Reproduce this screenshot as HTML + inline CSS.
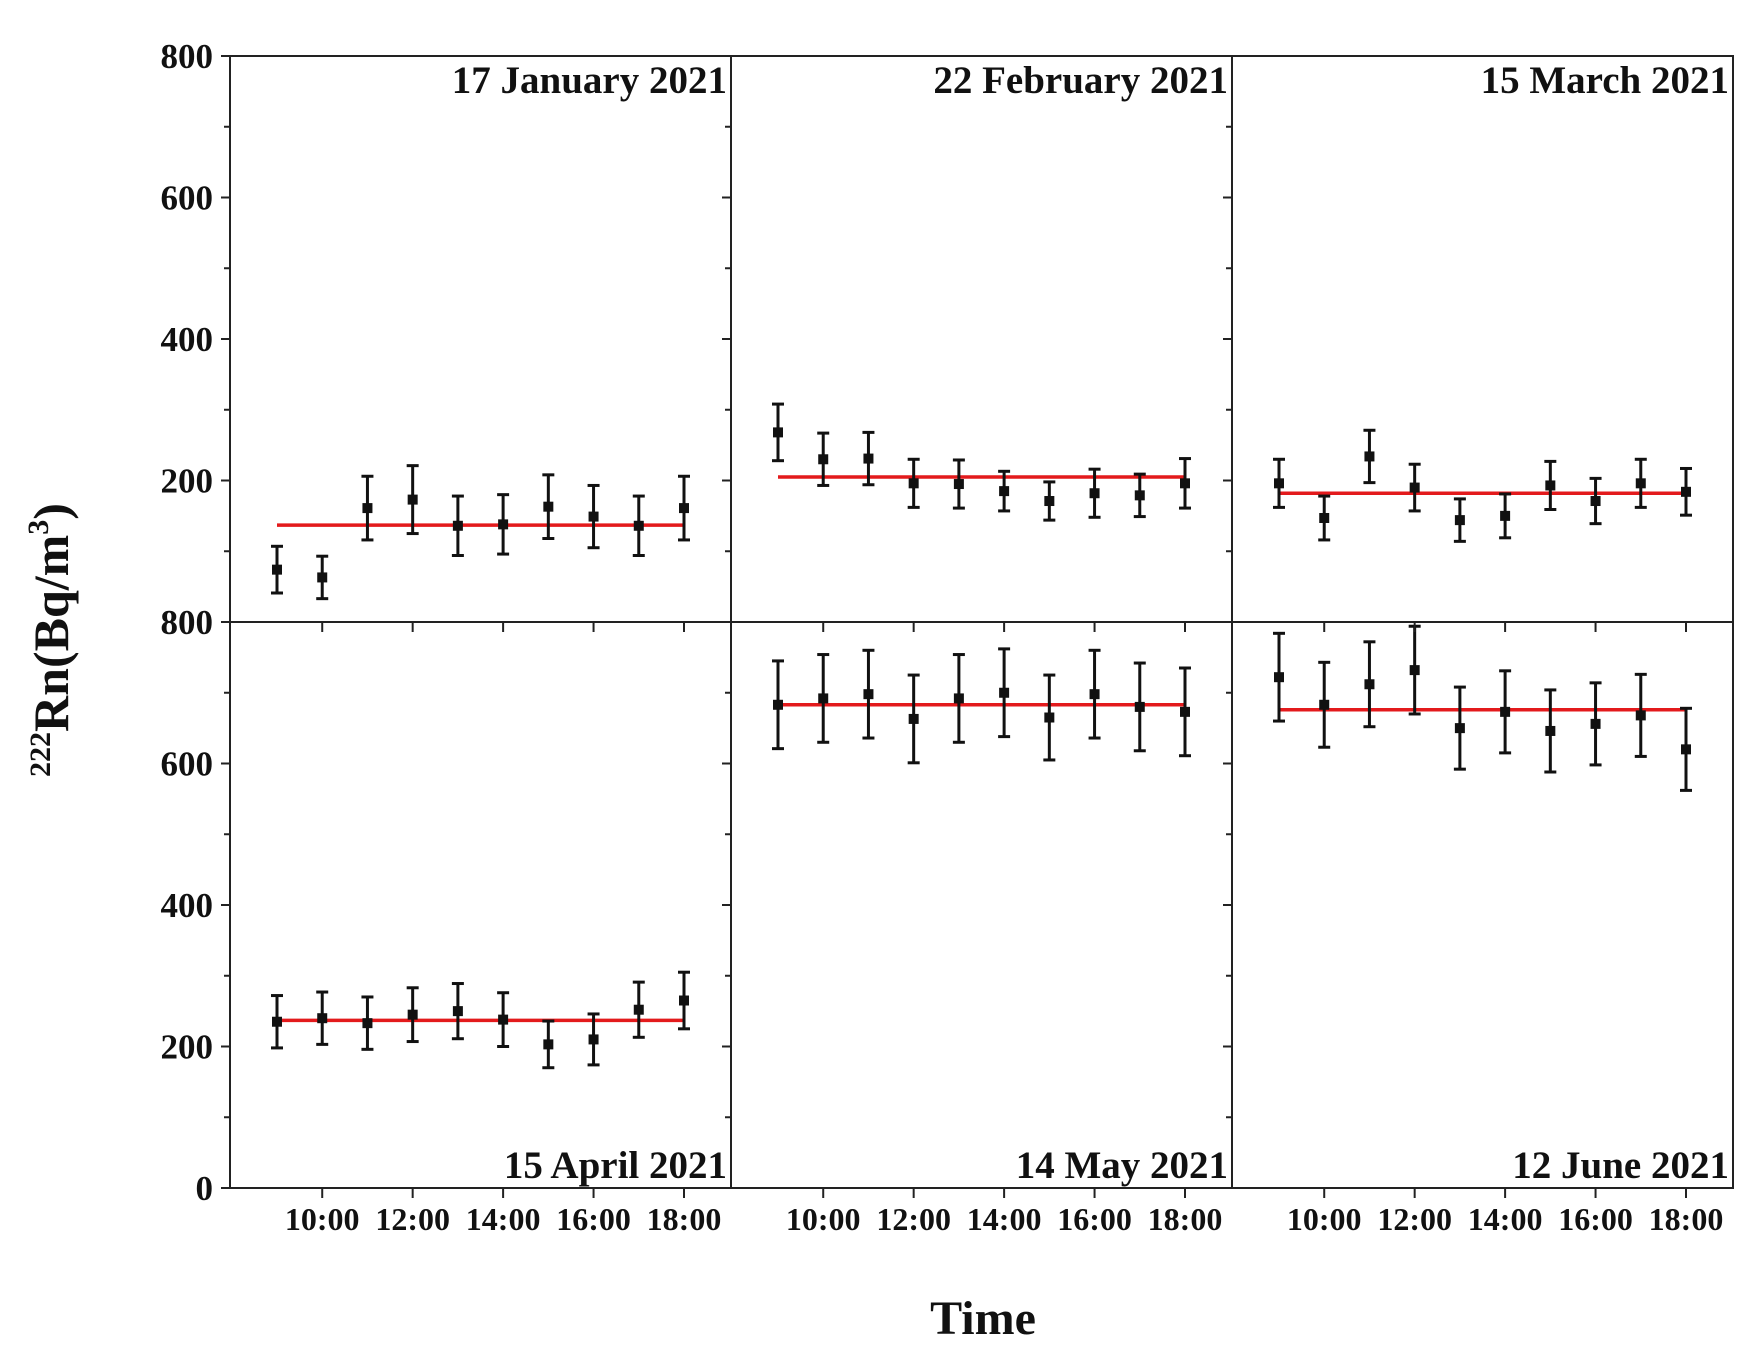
<!DOCTYPE html>
<html><head><meta charset="utf-8"><style>
html,body{margin:0;padding:0;background:#fff;}
svg{display:block;font-family:"Liberation Serif",serif;font-weight:bold;}
</style></head><body>
<svg id="chart" width="1764" height="1356" viewBox="0 0 1764 1356" xmlns="http://www.w3.org/2000/svg"></svg>
<script>
const hours = [9,10,11,12,13,14,15,16,17,18];
const xTickHours = [10,12,14,16,18];
const xTickLabels = ["10:00","12:00","14:00","16:00","18:00"];
const yTickValues = [0,200,400,600,800];
const panelTitles = ["17 January 2021","22 February 2021","15 March 2021","15 April 2021","14 May 2021","12 June 2021"];
const janVals = [74,63,161,173,136,138,163,149,136,161];
const janErr = [33,30,45,48,42,42,45,44,42,45];
const febVals = [268,230,231,196,195,185,171,182,179,196];
const febErr = [40,37,37,34,34,28,27,34,30,35];
const marVals = [196,147,234,190,144,150,193,171,196,184];
const marErr = [34,31,37,33,30,31,34,32,34,33];
const aprVals = [235,240,233,245,250,238,203,210,252,265];
const aprErr = [37,37,37,38,39,38,33,36,39,40];
const mayVals = [683,692,698,663,692,700,665,698,680,673];
const mayErr = [62,62,62,62,62,62,60,62,62,62];
const junVals = [722,683,712,732,650,673,646,656,668,620];
const junErr = [62,60,60,62,58,58,58,58,58,58];
const means = [137,205,182,237,683,676];

const svg = document.getElementById('chart');
const NS = 'http://www.w3.org/2000/svg';
function mk(tag, attrs, parent){ const e=document.createElementNS(NS,tag); for(const k in attrs) e.setAttribute(k,attrs[k]); (parent||svg).appendChild(e); return e; }

const colX = [230,731,1232,1733];
const rowY = [[56,622],[622,1188]];
const series = [[janVals,janErr],[febVals,febErr],[marVals,marErr],[aprVals,aprErr],[mayVals,mayErr],[junVals,junErr]];

function xScale(col,h){ return colX[col] + 47 + (h-9)*(407/9); }
function yScale(row,v){ const [t,b]=rowY[row]; return b - v/800*(b-t); }

for(let p=0;p<6;p++){
  const col=p%3,row=Math.floor(p/3);
  const g = mk('g',{});
  
  
  const ml = mk('line',{x1:xScale(col,hours[0]),x2:xScale(col,hours[hours.length-1]),y1:yScale(row,means[p]),y2:yScale(row,means[p]),stroke:'#e31a1c','stroke-width':3.5},g);
  
  
  const [vals,errs]=series[p];
  hours.forEach((h,i)=>{
    const x=xScale(col,h), y=yScale(row,vals[i]), yt=yScale(row,vals[i]+errs[i]), yb=yScale(row,vals[i]-errs[i]);
    const eg = mk('g',{stroke:'#111','stroke-width':3},g);
    
    
    mk('line',{x1:x,x2:x,y1:yt,y2:yb},eg);
    mk('line',{x1:x-6,x2:x+6,y1:yt,y2:yt},eg);
    mk('line',{x1:x-6,x2:x+6,y1:yb,y2:yb},eg);
    const pt = mk('rect',{x:x-5,y:y-5,width:10,height:10,fill:'#111'},g);
    
    
  });
  const tt = mk('text',{x:colX[col+1]-4,y:row===0?93:1178,'text-anchor':'end','font-size':39,fill:'#111'},g);
  tt.textContent=panelTitles[p];
  
  
}

const fr = mk('g',{stroke:'#222','stroke-width':2,fill:'none'});


mk('rect',{x:230,y:56,width:1503,height:rowY[1][1]-56},fr);
mk('line',{x1:230,x2:1733,y1:622,y2:622},fr);
mk('line',{x1:731,x2:731,y1:56,y2:rowY[1][1]},fr);
mk('line',{x1:1232,x2:1232,y1:56,y2:rowY[1][1]},fr);

for(let row=0;row<2;row++){
  for(let v=0; v<=800; v+=100){
    const y=yScale(row,v);
    for(let c=0;c<3;c++){
      const x=colX[c];
      const len = v%200===0?9:6;
      mk('line',{x1:x-len,x2:x,y1:y,y2:y,stroke:'#222','stroke-width':2});
    }
  }
  yTickValues.forEach(v=>{
    if(row===0 && v===0) return;
    const t=mk('text',{x:213,y:yScale(row,v)+12,'text-anchor':'end','font-size':35,fill:'#111'});
    t.textContent=String(v);
    
    
  });
}
for(let col=0;col<3;col++){
  for(let row=0;row<2;row++){
    const by=rowY[row][1];
    xTickHours.forEach(h=>{ mk('line',{x1:xScale(col,h),x2:xScale(col,h),y1:by,y2:by+10,stroke:'#222','stroke-width':2}); });
  }
  xTickHours.forEach((h,i)=>{
    const t=mk('text',{x:xScale(col,h),y:1230,'text-anchor':'middle','font-size':32,fill:'#111'});
    t.textContent=xTickLabels[i];
    
    
  });
}
const xt=mk('text',{x:983,y:1334,'text-anchor':'middle','font-size':48,fill:'#111'});
xt.textContent='Time';


const yt=mk('text',{x:0,y:0,transform:'translate(68,640) rotate(-90)','text-anchor':'middle','font-size':50,fill:'#111'});


const s1=mk('tspan',{'font-size':30,dy:-18},yt); s1.textContent='222';
const s2=mk('tspan',{dy:18},yt); s2.textContent='Rn(Bq/m';
const s3=mk('tspan',{'font-size':30,dy:-20},yt); s3.textContent='3';
const s4=mk('tspan',{dy:20},yt); s4.textContent=')';
</script>
</body></html>
